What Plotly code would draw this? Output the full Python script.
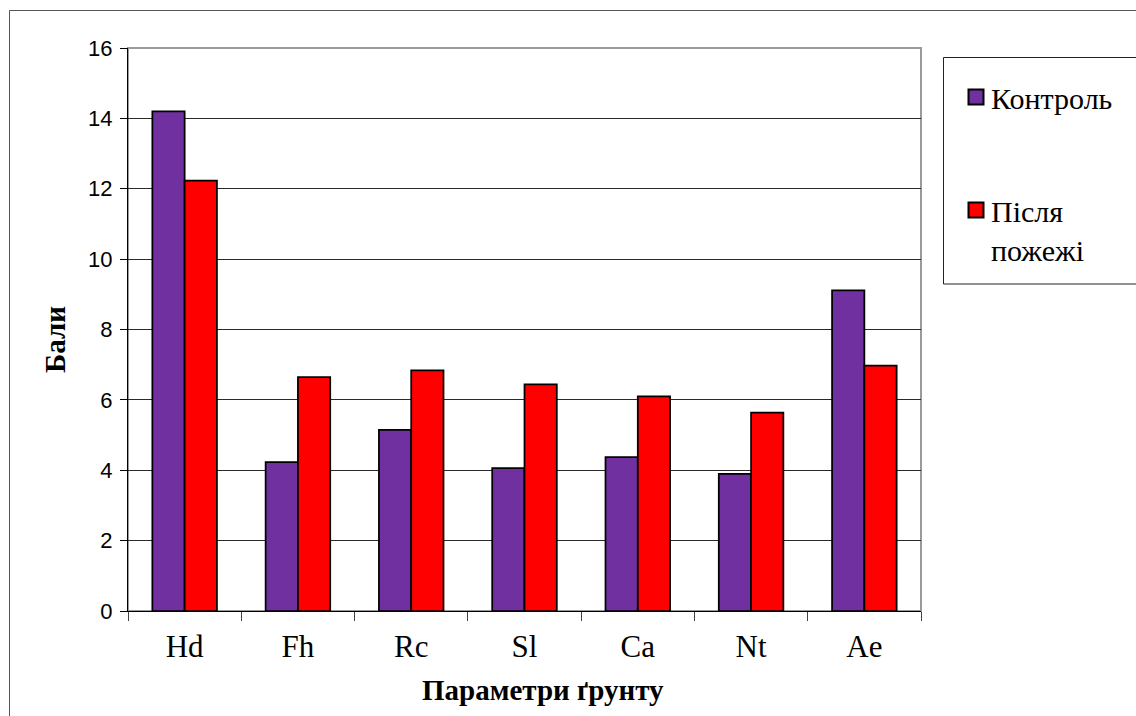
import plotly.graph_objects as go

# Soil parameters and scores (бали)
categories = ["Hd", "Fh", "Rc", "Sl", "Ca", "Nt", "Ae"]
control = [14.2, 4.23, 5.15, 4.06, 4.37, 3.90, 9.11]
after_fire = [12.23, 6.65, 6.84, 6.44, 6.10, 5.64, 6.97]
y_ticks = [0, 2, 4, 6, 8, 10, 12, 14, 16]
series_names = ["Контроль", "Після<br>пожежі"]
series_colors = ["#7030A0", "#FF0000"]

W, H = 1136, 716
L, R, T, B = 128, 215, 48, 105
PW, PH = W - L - R, H - T - B


def px_x(p):
    return (p - L) / PW


def px_y(p):
    return (H - B - p) / PH


serif = "Liberation Serif"
label_serif = "Times New Roman, Liberation Serif, serif"
sans = "Liberation Sans"

fig = go.Figure()
for name, vals, color in zip(series_names, [control, after_fire], series_colors):
    fig.add_trace(go.Bar(
        x=categories, y=vals, name=name.replace("<br>", " "),
        marker=dict(color=color, line=dict(color="black", width=1.75)),
    ))

# Legend drawn as a framed key with serif labels
legend_shapes = [
    dict(type="rect", xref="paper", yref="paper",
         x0=px_x(943.5), x1=px_x(1150), y0=px_y(284), y1=px_y(57.5),
         line=dict(color="#222", width=1), fillcolor="rgba(0,0,0,0)"),
]
legend_annotations = []
key_rows = [(97, 98), (210, 231)]  # (symbol centre, label centre) in px
for (sym_c, lab_c), name, color in zip(key_rows, series_names, series_colors):
    legend_shapes.append(dict(
        type="rect", xref="paper", yref="paper",
        x0=px_x(968.5), x1=px_x(983.5), y0=px_y(sym_c + 7.5), y1=px_y(sym_c - 7.5),
        line=dict(color="black", width=2), fillcolor=color,
    ))
    legend_annotations.append(dict(
        text=name, xref="paper", yref="paper", x=px_x(989), y=px_y(lab_c),
        xanchor="left", yanchor="middle", align="left", showarrow=False,
        font=dict(family=label_serif, size=30, color="black"),
    ))

fig.update_layout(
    width=W, height=H,
    margin=dict(l=L, r=R, t=T, b=B, autoexpand=False),
    paper_bgcolor="white", plot_bgcolor="white",
    barmode="group", bargap=0.43, bargroupgap=0,
    showlegend=False,
    xaxis=dict(
        showline=True, linecolor="black", linewidth=1,
        ticks="outside", tickson="boundaries", ticklen=9, tickcolor="#444",
        tickfont=dict(family=serif, size=31, color="black"),
        ticklabelstandoff=8,
        showgrid=False,
    ),
    yaxis=dict(
        range=[0, 16], tickvals=y_ticks, ticktext=[str(v) for v in y_ticks],
        showline=True, linecolor="black", linewidth=1,
        ticks="outside", ticklen=7, tickcolor="black",
        tickfont=dict(family=sans, size=22, color="black"),
        ticklabelstandoff=3,
        showgrid=True, gridcolor="#2a2a2a", gridwidth=1,
        zeroline=False,
    ),
    shapes=[
        # plot area frame
        dict(type="rect", xref="paper", yref="paper", x0=0, y0=0, x1=1, y1=1,
             line=dict(color="#9a9a9a", width=2), layer="between"),
        # chart area border
        dict(type="rect", xref="paper", yref="paper",
             x0=px_x(9.5), x1=px_x(1150), y0=px_y(730), y1=px_y(10.5),
             line=dict(color="#555", width=1), fillcolor="rgba(0,0,0,0)"),
    ] + legend_shapes,
    annotations=[
        dict(text="<b>Параметри ґрунту</b>", xref="paper", yref="paper",
             x=px_x(543), y=px_y(690), xanchor="center", yanchor="middle",
             showarrow=False, font=dict(family=serif, size=29, color="black")),
        dict(text="<b>Бали</b>", xref="paper", yref="paper",
             x=px_x(55), y=px_y(340), xanchor="center", yanchor="middle",
             textangle=-90, showarrow=False,
             font=dict(family=serif, size=29, color="black")),
    ] + legend_annotations,
)

fig.write_html("out.html")
